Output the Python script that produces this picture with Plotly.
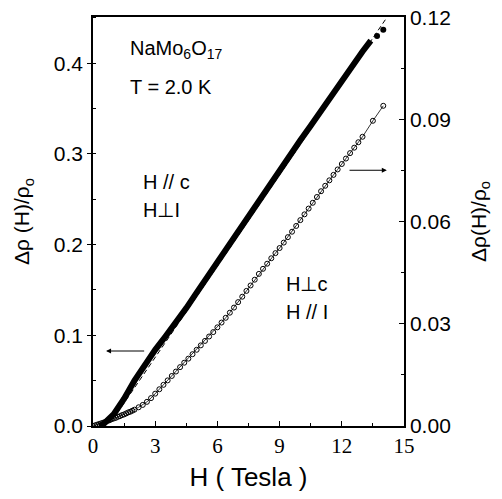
import plotly.graph_objects as go

# Filled series (H // c, H ⊥ I) – left axis
filled_H = [0.3, 0.5, 1.0, 1.5, 2.0, 2.5, 3.0, 3.5, 4.0, 4.5, 5.0, 5.5, 6.0, 6.5, 7.0,
            7.5, 8.0, 8.5, 9.0, 9.5, 10.0, 10.5, 11.0, 11.5, 12.0, 12.5, 13.0, 13.4]
filled_y = [0.0, 0.002, 0.013, 0.030, 0.050, 0.068, 0.084, 0.099, 0.114, 0.130, 0.147,
            0.164, 0.181, 0.197, 0.214, 0.231, 0.248, 0.266, 0.282, 0.299, 0.315, 0.331,
            0.348, 0.364, 0.381, 0.397, 0.413, 0.425]
filled_end_H = [13.7, 14.0]
filled_end_y = [0.430, 0.437]

# Linear guide (dashed)
dash_H = [1.15, 14.1]
dash_y = [0.0136, 0.448]

# Open series (H ⊥ c, H // I) – right axis
open_H = [0.0, 0.1, 0.2, 0.3, 0.4, 0.5, 0.6, 0.7, 0.8, 0.9, 1.0, 1.1, 1.2, 1.3, 1.4, 1.5,
          1.6, 1.7, 1.8, 1.9, 2.0, 2.2, 2.4, 2.6, 2.8, 3.0, 3.2, 3.4, 3.6, 3.8, 4.0, 4.2,
          4.4, 4.6, 4.8, 5.0, 5.2, 5.4, 5.6, 5.8, 6.0, 6.2, 6.4, 6.6, 6.8, 7.0, 7.2, 7.4,
          7.6, 7.8, 8.0, 8.2, 8.4, 8.6, 8.8, 9.0, 9.2, 9.4, 9.6, 9.8, 10.0, 10.2, 10.4,
          10.6, 10.8, 11.0, 11.2, 11.4, 11.6, 11.8, 12.0, 12.2, 12.4, 12.6, 12.8, 13.0,
          13.5, 14.0]
open_y = [0.0, 0.0002, 0.0004, 0.0006, 0.0008, 0.0010, 0.0012, 0.0015, 0.0017, 0.0020,
          0.0022, 0.0024, 0.0027, 0.0029, 0.0032, 0.0034, 0.0037, 0.0040, 0.0042, 0.0045,
          0.0048, 0.0055, 0.0062, 0.0071, 0.0082, 0.0095, 0.0108, 0.0121, 0.0134, 0.0147,
          0.0160, 0.0173, 0.0186, 0.0198, 0.0211, 0.0224, 0.0237, 0.0250, 0.0263, 0.0276,
          0.0290, 0.0304, 0.0318, 0.0333, 0.0348, 0.0364, 0.0380, 0.0397, 0.0413, 0.0430,
          0.0447, 0.0462, 0.0477, 0.0493, 0.0508, 0.0523, 0.0539, 0.0555, 0.0571, 0.0588,
          0.0605, 0.0622, 0.0639, 0.0656, 0.0673, 0.0690, 0.0706, 0.0722, 0.0738, 0.0754,
          0.0770, 0.0786, 0.0802, 0.0818, 0.0834, 0.0850, 0.0897, 0.0941]

x_ticks = [0, 3, 6, 9, 12, 15]
x_ticklabels = ["0", "3", "6", "9", "12", "15"]
yl_ticks = [0.0, 0.1, 0.2, 0.3, 0.4]
yl_ticklabels = ["0.0", "0.1", "0.2", "0.3", "0.4"]
yr_ticks = [0.0, 0.03, 0.06, 0.09, 0.12]
yr_ticklabels = ["0.00", "0.03", "0.06", "0.09", "0.12"]

SANS = "Arial, Liberation Sans, Helvetica, sans-serif"
SERIF = "Times New Roman, Liberation Serif, serif"

fig = go.Figure()
fig.add_trace(go.Scatter(x=dash_H, y=dash_y, mode="lines",
                         line=dict(color="black", width=1, dash="5px,3px"),
                         showlegend=False, hoverinfo="skip"))
fig.add_trace(go.Scatter(x=filled_H, y=filled_y, mode="lines",
                         line=dict(color="black", width=6),
                         showlegend=False))
fig.add_trace(go.Scatter(x=filled_end_H, y=filled_end_y, mode="markers",
                         marker=dict(color="black", size=6),
                         showlegend=False))
fig.add_trace(go.Scatter(x=open_H, y=open_y, mode="lines+markers", yaxis="y2",
                         line=dict(color="black", width=0.8),
                         marker=dict(symbol="circle-open", size=5, color="black",
                                     line=dict(width=1, color="black")),
                         showlegend=False))

ann_font = dict(family=SANS, size=20, color="black")
annotations = [
    dict(x=1.7, y=0.415, text="NaMo<sub>6</sub>O<sub>17</sub>", showarrow=False,
         xanchor="left", font=ann_font),
    dict(x=1.7, y=0.374, text="T = 2.0 K", showarrow=False, xanchor="left", font=ann_font),
    dict(x=2.3, y=0.269, text="H // c", showarrow=False, xanchor="left", font=ann_font),
    dict(x=2.3, y=0.238, text="H⊥I", showarrow=False, xanchor="left", font=ann_font),
    dict(x=9.2, y=0.157, text="H⊥c", showarrow=False, xanchor="left", font=ann_font),
    dict(x=9.2, y=0.126, text="H // I", showarrow=False, xanchor="left", font=ann_font),
    dict(x=0.63, y=0.0827, ax=2.54, ay=0.0827, xref="x", yref="y", axref="x", ayref="y",
         text="", showarrow=True, arrowhead=2, arrowsize=1, arrowwidth=1, arrowcolor="black"),
    dict(x=14.17, y=0.282, ax=12.3, ay=0.282, xref="x", yref="y", axref="x", ayref="y",
         text="", showarrow=True, arrowhead=2, arrowsize=1, arrowwidth=1, arrowcolor="black"),
]

# page body has an 8px default margin: figure is 494x491 so it fills the 502x499 window
fig.update_layout(
    width=494, height=491,
    margin=dict(l=85, r=98, t=9, b=73, autoexpand=False),
    paper_bgcolor="white", plot_bgcolor="white",
    showlegend=False,
    annotations=annotations,
    xaxis=dict(
        range=[0, 15], tickvals=x_ticks, ticktext=x_ticklabels, automargin=False,
        ticks="inside", ticklen=5, tickwidth=1, tickcolor="black",
        minor=dict(dtick=1.5, ticks="inside", ticklen=3, tickwidth=1, tickcolor="black"),
        showline=True, linecolor="black", linewidth=1.5, mirror=True,
        showgrid=False, zeroline=False, ticklabeloverflow="allow",
        tickfont=dict(family=SERIF, size=21, color="black"),
        ticklabelstandoff=0,
        title=dict(text="H ( Tesla )", font=dict(family=SANS, size=26, color="black"),
                   standoff=11),
    ),
    yaxis=dict(
        range=[0, 0.451], tickvals=yl_ticks, ticktext=yl_ticklabels, automargin=False,
        ticks="outside", ticklen=4, tickwidth=1, tickcolor="black",
        minor=dict(dtick=0.05, ticks="inside", ticklen=3, tickwidth=1, tickcolor="black"),
        showline=True, linecolor="black", linewidth=1.5,
        showgrid=False, zeroline=False, ticklabeloverflow="allow",
        tickfont=dict(family=SANS, size=21, color="black"),
        title=dict(text="Δρ (H)/ρ<sub>o</sub>", font=dict(family=SANS, size=21, color="black"),
                   standoff=18),
    ),
    yaxis2=dict(
        range=[0, 0.1202], tickvals=yr_ticks, ticktext=yr_ticklabels, automargin=False,
        overlaying="y", side="right",
        ticks="inside", ticklen=5, tickwidth=1, tickcolor="black",
        minor=dict(dtick=0.015, ticks="inside", ticklen=3, tickwidth=1, tickcolor="black"),
        showline=True, linecolor="black", linewidth=1.5,
        showgrid=False, zeroline=False, ticklabeloverflow="allow",
        tickfont=dict(family=SANS, size=21, color="black"),
        title=dict(text="Δρ(H)/ρ<sub>o</sub>", font=dict(family=SANS, size=21, color="black"),
                   standoff=21),
    ),
)

fig.write_html("out.html")
